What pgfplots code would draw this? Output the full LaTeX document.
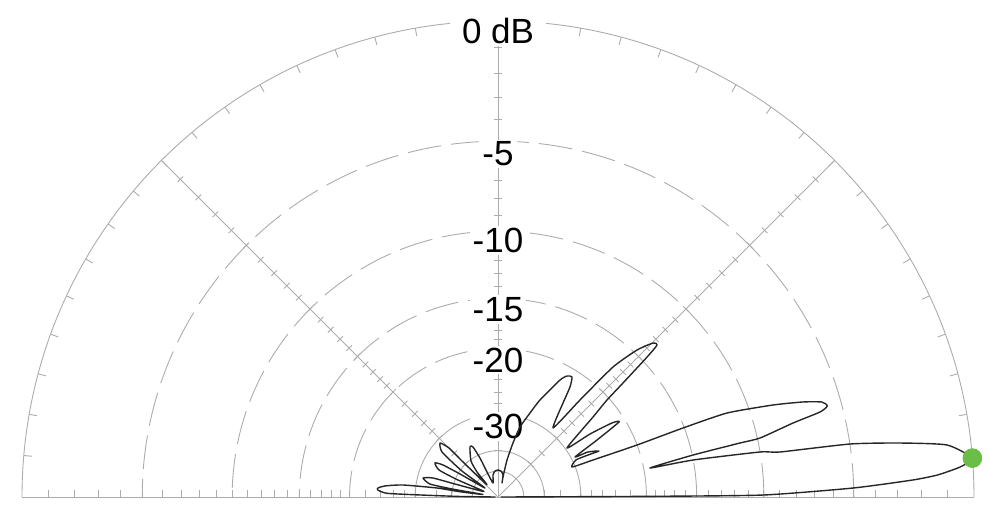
\documentclass[border=0pt]{standalone}
\usepackage{pgfplots}
\pgfplotsset{compat=1.18}
\usepackage{pgfplotstable}
\usepackage{fontspec}
\setmainfont{Liberation Sans}

\definecolor{gridc}{RGB}{172,172,172}
\definecolor{peak}{RGB}{106,190,69}

% elevation pattern: angle (deg), relative gain (dB)
\pgfplotstableread{
ang db
0 -90
0.25 -20
0.43 -10.05
1.45 -5.03
2.35 -2.35
2.87 -1.35
3.72 -0.47
4.69 0.0
6.61 -0.89
7.65 -2.75
8.56 -4.98
9.07 -8.77
9.75 -10.0
10.74 -15.0
10.80 -19.3
12.15 -14.93
12.58 -11.19
12.69 -9.82
14.08 -7.69
14.79 -6.13
15.46 -5.70
16.34 -5.90
17.30 -6.84
18.50 -8.51
20.14 -11.48
20.46 -15.11
20.51 -20.0
21.28 -26.43
22.07 -30.65
25.4 -29.3
25.0 -26.9
24.5 -25.0
26.6 -26.7
27.45 -29.2
29.93 -24.5
31.8 -20.7
33.0 -21.5
34.4 -24.9
35.4 -29.65
40.1 -23.06
41.67 -20.3
42.37 -17.75
43.2 -14.5
43.7 -13.25
44.8 -13.36
46.6 -14.69
48.5 -17.31
49.8 -22.68
51.4 -28.9
55.34 -24.48
56.8 -22.08
58.34 -20.88
60.3 -21.09
62.08 -21.96
66.6 -25.83
69.15 -28.6
72.55 -32.08
74.5 -36.73
76.3 -43.34
76.0 -53.9
74.0 -59.8
77.2 -52.3
83.4 -49.8
90.0 -49.25
96.6 -49.8
102.8 -52.3
109.7 -59.5
113.75 -49.1
114.8 -41.3
116.6 -36.7
119.25 -36.3
126.9 -40.5
130.0 -46.1
130.9 -54.6
132.7 -56.5
135.0 -38.4
135.0 -33.1
137.0 -30.8
141.2 -32.45
144.2 -40.7
145.3 -58.4
148.8 -40.7
149.8 -34.5
151.6 -32.5
155.4 -34.2
157.0 -41.1
158.6 -59.3
163.2 -40.5
163.7 -33.5
165.8 -31.2
169.2 -33.1
170.1 -40.0
170.5 -59.0
172.1 -43.2
171.6 -35.1
172.8 -27.5
174.4 -24.6
175.7 -23.6
176.7 -23.6
178.1 -25.0
178.5 -31.0
179.2 -43.4
180 -90
}\elevdata

\pgfplotstableread{
ang db
4.69 0
}\peakdata

\begin{document}
\begin{tikzpicture}
\path[use as bounding box] (0,0) rectangle (494.5pt,252.5pt);
\coordinate (O) at (249pt,4pt);

% log-periodic grid: r = R * 0.89^(|dB|/2), R = 238pt
\begin{scope}[gridc, line width=0.45pt]
  \draw ([shift={(0:238pt)}]O) arc[start angle=0, end angle=180, radius=238pt];
  \foreach \n in {5,10,15,20} {
    \pgfmathsetmacro\rr{238*exp(-\n/17.163)}
    \draw[dash pattern=on 17pt off 5pt] ([shift={(0:\rr pt)}]O) arc[start angle=0, end angle=180, radius=\rr pt];
  }
  \foreach \n in {30,40,50} {
    \pgfmathsetmacro\rr{238*exp(-\n/17.163)}
    \draw ([shift={(0:\rr pt)}]O) arc[start angle=0, end angle=180, radius=\rr pt];
  }
  \draw ([shift={(180:238pt)}]O) -- ([shift={(0:238pt)}]O);
  \foreach \a in {45,90,135} \draw (O) -- ++(\a:238pt);
  \foreach \n in {1,2,3,4,5,6,7,8,9,10,11,12,13,14,15,16,17,18,19,20,22,24,26,28,30,35,40} {
    \pgfmathsetmacro\rr{238*exp(-\n/17.163)}
    \foreach \a in {45,90,135}
      \draw ([shift={(\a:\rr pt)}]O) ++(\a+90:2pt) -- ++(\a-90:4pt);
    \draw ([shift={(0:\rr pt)}]O) -- ++(0,3.5pt);
    \draw ([shift={(180:\rr pt)}]O) -- ++(0,3.5pt);
  }
  \foreach \a in {5,10,...,175}
    \draw ([shift={(\a:238pt)}]O) -- ([shift={(\a:234pt)}]O);
\end{scope}

\begin{scope}[every node/.style={fill=white, inner xsep=1.5pt, inner ysep=1pt, font=\fontsize{17.5}{20}\selectfont}]
  \node[inner xsep=6pt] at (249pt,237pt) {0 dB};
  \node at (249pt,175.5pt) {-5};
  \node at (249pt,132.25pt) {-10};
  \node at (249pt,97.75pt) {-15};
  \node at (249pt,72.5pt) {-20};
  \node at (249pt,39.25pt) {-30};
\end{scope}

\begin{axis}[
  at={(0,0)}, anchor=south west,
  scale only axis, width=494.5pt, height=252.5pt,
  xmin=-1.046218, xmax=1.031513, ymin=-0.016807, ymax=1.044118,
  hide axis, clip=false]
  \addplot[only marks, mark=*, mark size=4.7pt, color=peak]
    table[x expr={exp(\thisrow{db}/17.163)*cos(\thisrow{ang})},
          y expr={exp(\thisrow{db}/17.163)*sin(\thisrow{ang})}] {\peakdata};
  \addplot[black!85, line width=0.7pt, line join=round, smooth, tension=0.35]
    table[x expr={exp(\thisrow{db}/17.163)*cos(\thisrow{ang})},
          y expr={exp(\thisrow{db}/17.163)*sin(\thisrow{ang})}] {\elevdata};
\end{axis}
\end{tikzpicture}
\end{document}
